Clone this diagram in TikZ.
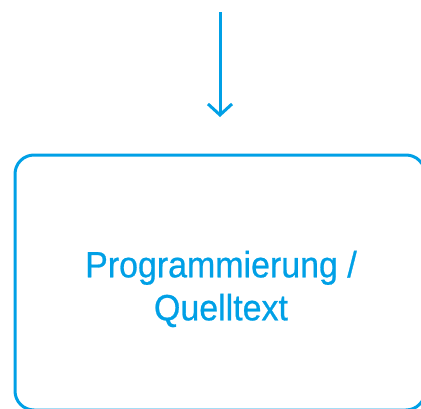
\documentclass[tikz,border=0pt]{standalone}
\usepackage{fontspec}
\setmainfont[FakeStretch=0.93, FakeBold=0.7]{Liberation Sans}
\usepackage{tikz}
\usetikzlibrary{arrows.meta,positioning}
\definecolor{hsblue}{RGB}{0,160,230}

\begin{document}
\begin{tikzpicture}[
  x=1pt, y=1pt,
  stage/.style={rectangle, draw=hsblue, line width=3pt, rounded corners=19pt, minimum width=410pt, minimum height=255pt, inner sep=0pt},
  lbl/.style={align=center, text=hsblue, font=\fontsize{36.5}{43}\selectfont},
  arr/.style={-{Straight Barb[length=11pt, width=24pt]}, hsblue, line width=3pt},
]
  \useasboundingbox (0,0) rectangle (421,-408);
  \clip (0,0) rectangle (421,-408);

  % Stage box
  \node[stage] (prog) at (220,-282.5) {};
  \node[lbl] (progtext) at (221,-289) {Programmierung /\\Quelltext};

  % Incoming arrow
  \coordinate (src) at (220,-12);
  \coordinate (tip) at (220,-117);
  \draw[arr] (src) -- (tip);
\end{tikzpicture}
\end{document}
